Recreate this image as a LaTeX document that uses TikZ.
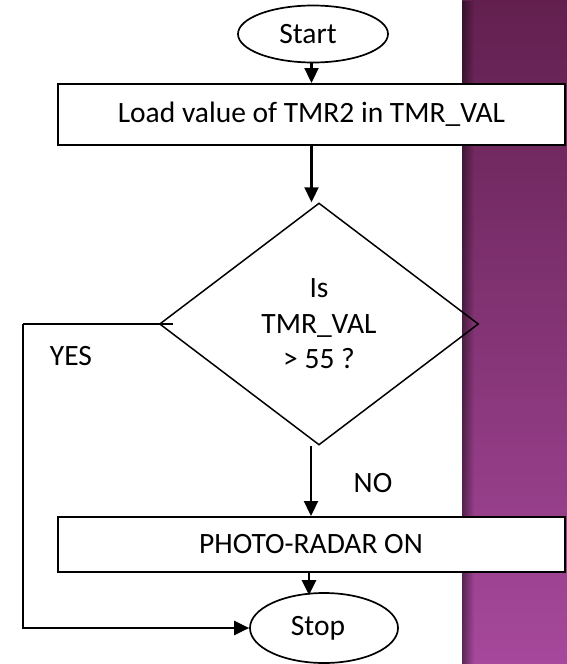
\documentclass[tikz,border=0pt]{standalone}
\usepackage{fontspec}
\setmainfont{Carlito}
\usetikzlibrary{shapes.geometric,arrows.meta,fadings}

\definecolor{panelTop}{HTML}{62204F}
\definecolor{panelMid}{HTML}{833377}
\definecolor{panelBot}{HTML}{A6489C}
\tikzfading[name=edgeshadow, left color=transparent!0, right color=transparent!100]

\tikzset{
  txt/.style={font=\fontsize{29.5}{35.6}\selectfont},
  terminal/.style={txt, draw, ellipse, line width=1.7pt, inner sep=0pt},
  procbox/.style={txt, draw, fill=white, line width=2pt, inner sep=0pt,
                  minimum width=507pt},
  decision/.style={txt, draw, diamond, line width=1.5pt, inner sep=0pt,
                   align=center, minimum width=319pt, minimum height=242pt},
  flow/.style={line width=2.3pt, -{Triangle[length=15pt,width=14pt]}},
  branch/.style={line width=2.3pt},
}

\begin{document}
\begin{tikzpicture}[x=1pt,y=-1pt]
  \useasboundingbox (0,0) rectangle (567,664);
  \fill[white] (0,0) rectangle (567,664);

  % side panel
  \shade[top color=panelTop, middle color=panelMid, bottom color=panelBot]
    (462,0) rectangle (567,664);
  \fill[black, opacity=0.45, path fading=edgeshadow] (462,0) rectangle (474,664);

  % flowchart blocks
  \node[terminal, minimum width=150pt, minimum height=57pt] (start) at (313,34) {\hspace*{-10pt}Start};
  \node[procbox, minimum height=61pt] (load) at (311.5,114.5) {Load value of TMR2 in TMR\_VAL};
  \node[decision] (test) at (319,324) {Is\\TMR\_VAL\\> 55 ?};
  \node[procbox, minimum height=55pt] (radar) at (311,544.5) {PHOTO-RADAR ON};
  \node[terminal, minimum width=148pt, minimum height=70pt] (stop) at (324,628) {\hspace*{-12pt}Stop};

  % labels
  \node[txt] (yes) at (71,356) {YES};
  \node[txt] (no) at (373,483) {NO};

  % connectors
  \coordinate (bend) at (23,324);
  \draw[flow] (start.south -| load.north) -- (load.north);
  \draw[flow] (load.south) -- (load.south |- test.north);
  \draw[branch] ([xshift=14pt]test.west) -- (bend);
  \draw[flow] (bend) |- (stop.west);
  \draw[flow] (radar.north |- test.south) -- (radar.north);
  \draw[flow] ([xshift=-2pt]radar.south) -- ([xshift=-2pt,yshift=-3pt]radar.south |- stop.north);
\end{tikzpicture}
\end{document}
